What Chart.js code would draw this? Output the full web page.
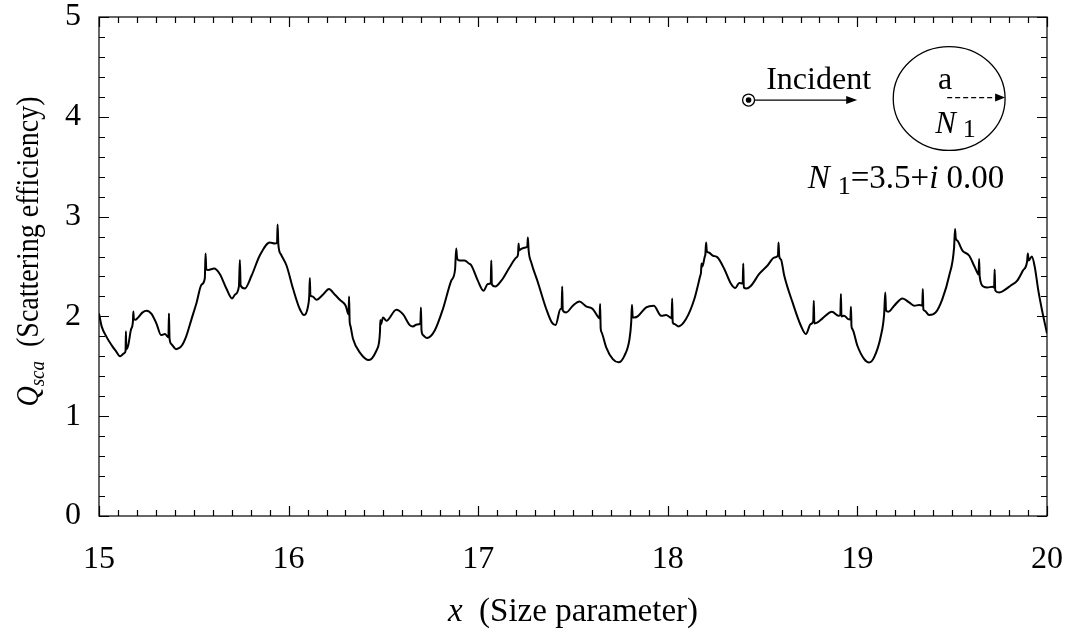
<!DOCTYPE html>
<html>
<head>
<meta charset="utf-8">
<script src="https://cdn.jsdelivr.net/npm/chart.js@4.4.0/dist/chart.umd.min.js"></script>
<style>
  html, body { margin: 0; padding: 0; background: #fff; }
  #wrap { width: 1075px; height: 635px; }
</style>
</head>
<body>
<div id="wrap"><canvas id="qscaChart" width="1075" height="635"></canvas></div>
<script>
// Size parameter x = 2*pi*a/lambda
const sizeParam = [
  15.000, 15.014, 15.041, 15.067, 15.090, 15.111, 15.133, 15.140, 15.142, 15.144,
  15.154, 15.169, 15.179, 15.181, 15.184, 15.193, 15.207, 15.230, 15.251, 15.278,
  15.304, 15.327, 15.348, 15.366, 15.369, 15.372, 15.383, 15.406, 15.436, 15.460,
  15.488, 15.515, 15.541, 15.558, 15.562, 15.566, 15.576, 15.607, 15.637, 15.673,
  15.702, 15.718, 15.738, 15.743, 15.747, 15.769, 15.805, 15.848, 15.901, 15.927,
  15.939, 15.942, 15.946, 15.960, 15.989, 16.024, 16.059, 16.082, 16.103, 16.109,
  16.112, 16.115, 16.126, 16.147, 16.182, 16.213, 16.243, 16.270, 16.301, 16.316,
  16.319, 16.322, 16.326, 16.340, 16.375, 16.424, 16.463, 16.477, 16.482, 16.484,
  16.487, 16.498, 16.516, 16.568, 16.603, 16.639, 16.656, 16.677, 16.695, 16.698,
  16.701, 16.709, 16.730, 16.770, 16.814, 16.858, 16.878, 16.884, 16.889, 16.902,
  16.928, 16.951, 16.964, 16.998, 17.028, 17.051, 17.066, 17.069, 17.072, 17.090,
  17.122, 17.165, 17.201, 17.210, 17.213, 17.216, 17.227, 17.250, 17.259, 17.262,
  17.266, 17.280, 17.315, 17.359, 17.388, 17.408, 17.434, 17.440, 17.443, 17.446,
  17.464, 17.499, 17.534, 17.569, 17.604, 17.634, 17.640, 17.643, 17.646, 17.651,
  17.675, 17.710, 17.740, 17.771, 17.798, 17.807, 17.811, 17.815, 17.824, 17.841,
  17.886, 17.926, 17.965, 17.991, 18.012, 18.020, 18.023, 18.026, 18.035, 18.057,
  18.096, 18.140, 18.170, 18.175, 18.178, 18.182, 18.195, 18.198, 18.202, 18.206,
  18.216, 18.237, 18.263, 18.298, 18.334, 18.356, 18.377, 18.395, 18.398, 18.401,
  18.416, 18.439, 18.482, 18.526, 18.562, 18.581, 18.584, 18.588, 18.597, 18.614,
  18.658, 18.702, 18.728, 18.754, 18.767, 18.770, 18.773, 18.790, 18.816, 18.866,
  18.900, 18.910, 18.913, 18.916, 18.930, 18.951, 18.963, 18.966, 18.969, 18.974,
  19.000, 19.036, 19.062, 19.088, 19.124, 19.141, 19.147, 19.151, 19.164, 19.194,
  19.238, 19.273, 19.299, 19.326, 19.342, 19.345, 19.348, 19.355, 19.378, 19.413,
  19.448, 19.484, 19.510, 19.515, 19.519, 19.527, 19.554, 19.589, 19.615, 19.636,
  19.639, 19.642, 19.645, 19.664, 19.686, 19.712, 19.721, 19.724, 19.727, 19.747,
  19.773, 19.809, 19.843, 19.873, 19.895, 19.899, 19.903, 19.920, 19.935, 19.955,
  19.975, 20.000
];

// Scattering efficiency Q_sca, N1 = 3.5 + i0.00
const qsca = [
  2.03, 1.90, 1.79, 1.71, 1.65, 1.60, 1.63, 1.655, 1.85, 1.67,
  1.71, 1.87, 1.95, 2.05, 1.97, 1.967, 1.99, 2.04, 2.057, 2.023,
  1.923, 1.813, 1.823, 1.79, 2.03, 1.78, 1.72, 1.672, 1.706, 1.80,
  1.973, 2.14, 2.32, 2.38, 2.63, 2.47, 2.465, 2.48, 2.425, 2.274,
  2.18, 2.22, 2.30, 2.565, 2.31, 2.28, 2.41, 2.61, 2.74, 2.73,
  2.74, 2.92, 2.72, 2.62, 2.51, 2.274, 2.074, 2.013, 2.107, 2.21,
  2.385, 2.21, 2.20, 2.167, 2.22, 2.274, 2.22, 2.167, 2.107, 2.02,
  2.20, 1.95, 1.906, 1.773, 1.64, 1.562, 1.656, 1.74, 1.85, 1.963,
  1.92, 1.99, 1.956, 2.067, 2.023, 1.913, 1.90, 1.92, 1.93, 2.09,
  1.86, 1.813, 1.783, 1.856, 2.074, 2.358, 2.47, 2.68, 2.58, 2.56,
  2.56, 2.53, 2.51, 2.358, 2.258, 2.324, 2.33, 2.56, 2.32, 2.30,
  2.358, 2.49, 2.59, 2.62, 2.73, 2.66, 2.676, 2.69, 2.70, 2.79,
  2.66, 2.54, 2.34, 2.074, 1.94, 1.913, 2.074, 2.08, 2.30, 2.06,
  2.04, 2.107, 2.15, 2.10, 2.074, 1.99, 1.98, 2.124, 1.88, 1.84,
  1.69, 1.572, 1.54, 1.605, 1.773, 1.94, 2.117, 1.99, 1.99, 2.00,
  2.09, 2.107, 2.007, 2.013, 1.99, 1.98, 2.18, 1.94, 1.923, 1.90,
  1.973, 2.174, 2.40, 2.44, 2.53, 2.50, 2.60, 2.62, 2.74, 2.65,
  2.64, 2.61, 2.59, 2.475, 2.324, 2.284, 2.334, 2.33, 2.53, 2.29,
  2.28, 2.307, 2.425, 2.51, 2.59, 2.61, 2.74, 2.60, 2.57, 2.41,
  2.14, 1.906, 1.823, 1.923, 1.95, 2.157, 1.93, 1.94, 1.98, 2.047,
  2.007, 2.01, 2.224, 2.00, 2.007, 1.973, 1.97, 2.097, 1.90, 1.873,
  1.706, 1.572, 1.538, 1.589, 1.806, 2.023, 2.24, 2.06, 2.047, 2.107,
  2.18, 2.14, 2.107, 2.114, 2.11, 2.274, 2.07, 2.057, 2.013, 2.04,
  2.174, 2.408, 2.692, 2.876, 2.78, 2.76, 2.66, 2.61, 2.51, 2.425,
  2.42, 2.575, 2.40, 2.30, 2.29, 2.297, 2.29, 2.47, 2.26, 2.24,
  2.26, 2.31, 2.358, 2.46, 2.55, 2.63, 2.56, 2.60, 2.50, 2.25,
  2.05, 1.83
];

const xTicks = [15, 16, 17, 18, 19, 20];
const yTicks = [0, 1, 2, 3, 4, 5];

const SERIF = "'Liberation Serif', 'Times New Roman', serif";
const tickFont = { family: SERIF, size: 32, lineHeight: 1 };

// inward tick marks on all four sides + frame
const frameTicks = {
  id: 'frameTicks',
  afterDraw(chart) {
    const { ctx, chartArea: a, scales: { x, y } } = chart;
    ctx.save();
    ctx.strokeStyle = '#000';
    ctx.lineWidth = 1.2;
    ctx.strokeRect(a.left, a.top, a.right - a.left, a.bottom - a.top);
    ctx.beginPath();
    for (let i = 0; i <= 50; i++) {
      const px = Math.round(x.getPixelForValue(15 + i * 0.1)) + 0.5;
      const len = i % 10 === 0 ? 10 : 6;
      ctx.moveTo(px, a.bottom); ctx.lineTo(px, a.bottom - len);
      ctx.moveTo(px, a.top); ctx.lineTo(px, a.top + len);
    }
    for (let i = 0; i <= 25; i++) {
      const py = Math.round(y.getPixelForValue(i * 0.2)) + 0.5;
      const len = i % 5 === 0 ? 10 : 6;
      ctx.moveTo(a.left, py); ctx.lineTo(a.left + len, py);
      ctx.moveTo(a.right, py); ctx.lineTo(a.right - len, py);
    }
    ctx.stroke();
    ctx.restore();
  }
};

function drawParts(ctx, parts, x, y, align) {
  let total = 0;
  parts.forEach(p => { ctx.font = p.f; p.w = ctx.measureText(p.t).width + (p.dx || 0); total += p.w; });
  let cx = align === 'center' ? x - total / 2 : align === 'right' ? x - total : x;
  ctx.textAlign = 'left';
  parts.forEach(p => { ctx.font = p.f; ctx.fillText(p.t, cx + (p.dx || 0), y + p.dy); cx += p.w; });
}

// axis titles with italic symbols and subscripts
const axisTitles = {
  id: 'axisTitles',
  afterDraw(chart) {
    const { ctx, chartArea: a } = chart;
    ctx.save();
    ctx.fillStyle = '#000';
    ctx.textBaseline = 'alphabetic';

    drawParts(ctx, [
      { t: 'x', f: `italic 33px ${SERIF}`, dy: 0 },
      { t: '  (Size parameter)', f: `33px ${SERIF}`, dy: 0 }
    ], (a.left + a.right) / 2, 621, 'center');

    // y title, rotated; glyphs a little wider across than along
    ctx.translate(38, (a.top + a.bottom) / 2 - 15);
    ctx.rotate(-Math.PI / 2);
    ctx.scale(1, 1.12);
    drawParts(ctx, [
      { t: 'Q', f: `italic 28px ${SERIF}`, dy: 0 },
      { t: 'sca', f: `italic 19px ${SERIF}`, dy: 5 },
      { t: '  (Scattering efficiency)', f: `28px ${SERIF}`, dy: 0 }
    ], 0, 0, 'center');
    ctx.restore();
  }
};

// incident beam and sphere sketch, placed in axis units
const sketch = {
  source: { x: 18.426, y: 4.168 },
  beamEnd: { x: 18.999, y: 4.168 },
  label: { x: 18.519, y: 4.279 },
  sphere: { x: 19.484, y: 4.183, rx: 0.295, ry: 0.52 },
  radiusLabel: { x: 19.425, y: 4.275 },
  indexLabel: { x: 19.41, y: 3.835 },
  indexLine: { x: 19.774, y: 3.287 }
};

function arrowHead(ctx, tipX, tipY, len, half) {
  ctx.beginPath();
  ctx.moveTo(tipX, tipY);
  ctx.lineTo(tipX - len, tipY - half);
  ctx.lineTo(tipX - len, tipY + half);
  ctx.closePath();
  ctx.fill();
}

const sketchPlugin = {
  id: 'sketch',
  afterDraw(chart) {
    const { ctx, scales: { x, y } } = chart;
    const px = v => x.getPixelForValue(v);
    const py = v => y.getPixelForValue(v);
    ctx.save();
    ctx.strokeStyle = '#000';
    ctx.fillStyle = '#000';
    ctx.lineWidth = 1.3;

    // source: circled dot
    const sx = px(sketch.source.x), sy = py(sketch.source.y);
    ctx.beginPath(); ctx.arc(sx, sy, 6, 0, Math.PI * 2); ctx.stroke();
    ctx.beginPath(); ctx.arc(sx, sy, 2.8, 0, Math.PI * 2); ctx.fill();

    // beam arrow
    const ex = px(sketch.beamEnd.x);
    ctx.beginPath(); ctx.moveTo(sx + 6, sy); ctx.lineTo(ex - 8, sy); ctx.stroke();
    arrowHead(ctx, ex, sy, 11, 4);

    ctx.textBaseline = 'alphabetic';
    ctx.textAlign = 'left';
    ctx.font = `32px ${SERIF}`;
    ctx.fillText('Incident', px(sketch.label.x), py(sketch.label.y));

    // sphere
    const cx = px(sketch.sphere.x), cy = py(sketch.sphere.y);
    const rx = px(sketch.sphere.x + sketch.sphere.rx) - cx;
    const ry = cy - py(sketch.sphere.y + sketch.sphere.ry);
    ctx.beginPath(); ctx.ellipse(cx, cy, rx, ry, 0, 0, Math.PI * 2); ctx.stroke();

    // dashed radius
    ctx.setLineDash([5, 3]);
    ctx.beginPath(); ctx.moveTo(cx - 2, cy - 1); ctx.lineTo(cx + rx - 9, cy - 1); ctx.stroke();
    ctx.setLineDash([]);
    arrowHead(ctx, cx + rx, cy - 1, 10, 4);

    ctx.font = `32px ${SERIF}`;
    ctx.fillText('a', px(sketch.radiusLabel.x), py(sketch.radiusLabel.y));
    drawParts(ctx, [
      { t: 'N', f: `italic 31px ${SERIF}`, dy: 0 },
      { t: '1', f: `26px ${SERIF}`, dy: 4, dx: 7 }
    ], px(sketch.indexLabel.x), py(sketch.indexLabel.y), 'left');

    drawParts(ctx, [
      { t: 'N', f: `italic 33px ${SERIF}`, dy: 0 },
      { t: '1', f: `26px ${SERIF}`, dy: 6, dx: 8 },
      { t: '=3.5+', f: `33px ${SERIF}`, dy: 0 },
      { t: 'i', f: `italic 33px ${SERIF}`, dy: 0 },
      { t: '0.00', f: `33px ${SERIF}`, dy: 0, dx: 8 }
    ], px(sketch.indexLine.x), py(sketch.indexLine.y), 'right');
    ctx.restore();
  }
};

const ctx = document.getElementById('qscaChart').getContext('2d');
new Chart(ctx, {
  type: 'line',
  data: {
    datasets: [{
      label: 'Qsca',
      data: sizeParam.map((v, i) => ({ x: v, y: qsca[i] })),
      borderColor: '#000',
      borderWidth: 2,
      pointRadius: 0,
      fill: false,
      cubicInterpolationMode: 'monotone'
    }]
  },
  options: {
    responsive: false,
    animation: false,
    devicePixelRatio: 1,
    layout: { padding: { top: 17, right: 28, left: 0, bottom: 0 } },
    plugins: {
      legend: { display: false },
      tooltip: { enabled: false }
    },
    scales: {
      x: {
        type: 'linear',
        min: 15,
        max: 20,
        afterBuildTicks: s => { s.ticks = xTicks.map(v => ({ value: v })); },
        afterFit: s => { s.height = 119; s.paddingLeft = 0; s.paddingRight = 0; },
        grid: { display: false, drawTicks: false },
        border: { display: false },
        ticks: { font: tickFont, color: '#000', padding: 28, maxRotation: 0, autoSkip: false }
      },
      y: {
        min: 0,
        max: 5,
        afterBuildTicks: s => { s.ticks = yTicks.map(v => ({ value: v })); },
        afterFit: s => { s.width = 99; s.paddingTop = 0; s.paddingBottom = 0; },
        grid: { display: false, drawTicks: false },
        border: { display: false },
        ticks: { font: tickFont, color: '#000', padding: 18 }
      }
    }
  },
  plugins: [frameTicks, axisTitles, sketchPlugin]
});
</script>
</body>
</html>
